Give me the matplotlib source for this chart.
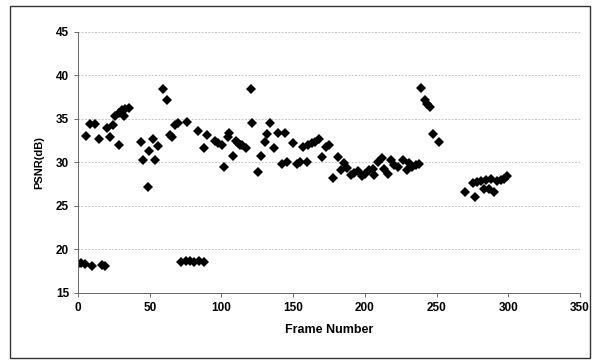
import matplotlib
matplotlib.use("Agg")
import matplotlib.pyplot as plt
from matplotlib.patches import Rectangle
import numpy as np

# frame number / PSNR
frames = [0, 2, 5, 10, 17, 19,
          72, 75, 78, 81, 84, 88,
          5.6, 8.6, 11.6, 14.4, 20.2, 22.1, 24.2, 26, 28.4, 28.4, 30.7, 33, 35.8, 31.9,
          43.9, 45.3, 48.8, 49.7, 52.3, 53.9, 55.8, 59, 61.8,
          64.2, 65.8, 67.6, 69.9, 76.2, 83.5, 88, 89.7, 95.5, 97.8, 100.2, 105.3, 104.4,
          102, 108.3, 109.9, 113,
          120.4, 121.5, 111.6, 114.4, 117.4, 125.5, 127.4, 130.2, 132, 133.9, 136.7, 139.5,
          144.1, 142.3, 146, 150, 153, 154.6, 156.9, 159.9, 160.4, 163.2, 165.5, 167.8,
          170.1, 173.2,
          175.2, 177.6, 181.1, 183.4, 185.7, 187.6, 190.4, 192.7, 195, 197.8, 200.1, 203.1,
          205.5, 206.6, 209, 211.8, 213.6, 216, 218.3, 220.6, 223.4, 226.4, 229.4, 231.1,
          233.1, 235.5, 237.8,
          239, 241.8, 243.6, 245.5, 247.8, 251.8,
          269.9, 276.6, 275.7, 278, 280.8, 283.1, 284.3, 286.6, 288.2, 290.1, 292, 294.8,
          297.1, 298.9]
psnr = [18.3, 18.4, 18.3, 18.1, 18.2, 18.1,
        18.6, 18.7, 18.7, 18.6, 18.7, 18.6,
        33.0, 34.4, 34.4, 32.7, 34.0, 32.9, 34.3, 35.3, 32.0, 35.7, 36.0, 36.2, 36.3, 35.3,
        32.4, 30.3, 27.2, 31.3, 32.7, 30.3, 31.9, 38.4, 37.2,
        33.1, 32.9, 34.3, 34.5, 34.6, 33.6, 31.7, 33.1, 32.5, 32.2, 32.0, 33.4, 32.9,
        29.5, 30.7, 32.5, 32.0,
        38.4, 34.5, 32.2, 32.0, 31.7, 28.9, 30.7, 32.4, 33.3, 34.5, 31.7, 33.4,
        33.4, 29.8, 30.0, 32.2, 29.8, 30.0, 31.8, 30.1, 32.0, 32.2, 32.4, 32.7,
        30.6, 31.8,
        32.0, 28.2, 30.6, 29.1, 29.9, 29.4, 28.5, 28.8, 29.0, 28.4, 28.7, 29.1,
        29.3, 28.6, 30.1, 30.5, 29.3, 28.7, 30.3, 29.7, 29.5, 30.3, 29.1, 29.9,
        29.5, 29.7, 29.8,
        38.5, 37.2, 36.7, 36.4, 33.3, 32.4,
        26.6, 26.0, 27.6, 27.8, 27.9, 26.9, 28.0, 27.0, 28.1, 26.6, 27.9, 28.0,
        28.1, 28.4]

x_ticks = [0, 50, 100, 150, 200, 250, 300, 350]
y_ticks = [15, 20, 25, 30, 35, 40, 45]

plt.rcParams['font.family'] = ['Liberation Sans', 'DejaVu Sans']

fig = plt.figure(figsize=(5.96, 3.63), dpi=100)
ax = fig.add_axes([0.131, 0.193, 0.842, 0.719])

ax.plot(frames, psnr, linestyle='none', marker='D', markersize=5.3,
        color='black', markeredgewidth=0)

ax.set_xlim(0, 350)
ax.set_ylim(15, 45)
ax.set_xticks(x_ticks)
ax.set_yticks(y_ticks)
ax.tick_params(labelsize=8.5, length=3, width=0.6, color='#555555')
for lbl in ax.get_xticklabels() + ax.get_yticklabels():
    lbl.set_fontweight('bold')

ax.yaxis.grid(True, linestyle=(0, (2, 2)), color='#b5b5b5', linewidth=0.6)
ax.set_axisbelow(True)
for side in ['top', 'right']:
    ax.spines[side].set_visible(False)
for side in ['left', 'bottom']:
    ax.spines[side].set_color('#666666')
    ax.spines[side].set_linewidth(0.7)

ax.set_xlabel("Frame Number", fontsize=9, fontweight='bold', labelpad=7)
ax.set_ylabel("PSNR(dB)", fontsize=8, fontweight='bold', labelpad=8)

# outer chart frame
fig.patches.append(Rectangle((0.017, 0.014), 0.973, 0.97, transform=fig.transFigure,
                             fill=False, edgecolor='#333333', linewidth=1.0))

fig.savefig("out.png", dpi=100)
